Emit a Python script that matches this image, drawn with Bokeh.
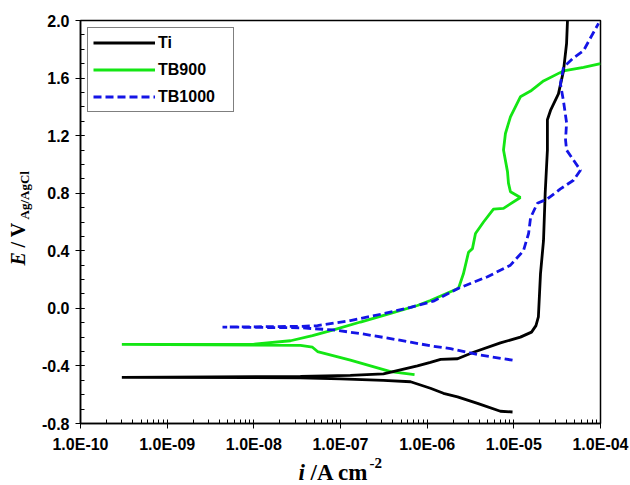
import math
from bokeh.plotting import figure
from bokeh.models import (Range1d, FixedTicker, CustomJSTickFormatter, PrintfTickFormatter,
                          Label, Legend, LegendItem)
from bokeh.embed import file_html
from bokeh.resources import INLINE

# ---------------- data ----------------
# Ti : cathodic branch (high -> low current), then anodic branch
ti_i = [9.66e-6, 7.0e-6, 3.81e-6, 2.24e-6, 1.54e-6, 1.09e-6, 6.43e-7, 3.13e-7, 1.0e-7, 3.45e-8,
        3.0e-10,
        3.45e-8, 1.3e-7, 3.13e-7, 7.72e-7, 1.09e-6, 1.43e-6, 2.24e-6, 3.43e-6, 7.0e-6, 1.19e-5,
        1.6e-5, 1.8e-5, 1.92e-5, 2.03e-5, 2.2e-5, 2.3e-5, 2.44e-5, 2.44e-5, 2.65e-5, 3.27e-5,
        3.74e-5, 4.06e-5, 4.16e-5]
ti_E = [-0.72, -0.715, -0.66, -0.615, -0.59, -0.555, -0.51, -0.50, -0.49, -0.482,
        -0.48,
        -0.472, -0.465, -0.455, -0.40, -0.375, -0.355, -0.35, -0.305, -0.24, -0.20,
        -0.165, -0.12, -0.06, 0.24, 0.47, 0.80, 1.10, 1.31, 1.375, 1.49,
        1.65, 1.84, 2.0]

# TB900
tb900_i = [7.15e-7, 3.78e-7, 1.30e-7, 5.43e-8, 4.75e-8, 3.45e-8, 1.0e-8,
           3.0e-10,
           1.0e-8, 2.65e-8, 4.75e-8, 8.3e-8, 1.70e-7, 3.78e-7, 7.72e-7, 1.09e-6, 2.30e-6,
           2.62e-6, 3.0e-6, 3.33e-6, 3.61e-6, 4.47e-6, 5.82e-6, 7.6e-6, 1.19e-5, 9.14e-6,
           8.67e-6, 8.45e-6, 7.6e-6, 8.0e-6, 9.14e-6, 1.19e-5, 1.56e-5, 2.20e-5, 3.74e-5,
           6.37e-5, 1.0e-4]
tb900_E = [-0.46, -0.44, -0.36, -0.30, -0.27, -0.257, -0.255,
           -0.25,
           -0.248, -0.225, -0.19, -0.15, -0.095, -0.035, 0.02, 0.055, 0.14,
           0.24, 0.39, 0.415, 0.52, 0.60, 0.69, 0.695, 0.77, 0.81,
           0.87, 0.95, 1.10, 1.215, 1.33, 1.47, 1.51, 1.58, 1.65,
           1.675, 1.70]

# TB1000
tb1000_i = [9.66e-6, 4.12e-6, 1.86e-6, 1.09e-6, 6.43e-7, 3.78e-7, 1.70e-7, 8.3e-8, 3.45e-8,
            4.35e-9,
            3.45e-8, 5.43e-8, 1.30e-7, 3.13e-7, 6.43e-7, 1.18e-6, 2.30e-6, 4.97e-6, 9.14e-6,
            1.29e-5, 1.48e-5, 1.56e-5, 1.87e-5, 2.44e-5, 3.45e-5, 4.88e-5, 5.87e-5, 4.88e-5,
            4.06e-5, 3.95e-5, 4.06e-5, 3.74e-5, 3.45e-5, 3.74e-5, 4.88e-5, 6.37e-5, 7.68e-5,
            9.49e-5]
tb1000_E = [-0.36, -0.325, -0.28, -0.26, -0.235, -0.21, -0.175, -0.15, -0.135,
            -0.13,
            -0.125, -0.12, -0.085, -0.037, 0.007, 0.05, 0.14, 0.22, 0.30,
            0.40, 0.52, 0.63, 0.73, 0.76, 0.83, 0.89, 0.96, 1.03,
            1.10, 1.17, 1.29, 1.44, 1.56, 1.675, 1.74, 1.79, 1.88,
            1.98]

series_names = ["Ti", "TB900", "TB1000"]
x_ticks = [1e-10, 1e-9, 1e-8, 1e-7, 1e-6, 1e-5, 1e-4]
y_ticks = [-0.8, -0.4, 0.0, 0.4, 0.8, 1.2, 1.6, 2.0]

x_minor = [m * 10.0 ** e for e in range(-10, -4) for m in range(2, 10)]
y_minor = [round(-0.8 + 0.1 * k, 1) for k in range(29)]

# ---------------- figure ----------------
p = figure(width=630, height=485, x_axis_type="log",
           x_range=Range1d(1e-10, 1e-4), y_range=Range1d(-0.8, 2.0),
           output_backend="svg", toolbar_location=None,
           min_border_left=80, min_border_right=30, min_border_top=20, min_border_bottom=62)
p.background_fill_color = "white"
p.border_fill_color = "white"
p.xgrid.visible = False
p.ygrid.visible = False
p.outline_line_color = "black"
p.outline_line_width = 1.5

for ax in (p.xaxis[0], p.yaxis[0]):
    ax.axis_line_color = "black"
    ax.axis_line_width = 1.5
    ax.major_tick_line_color = "black"
    ax.minor_tick_line_color = "black"
    ax.major_tick_in = 4
    ax.major_tick_out = 5
    ax.minor_tick_in = 4
    ax.minor_tick_out = 0
    ax.major_label_text_font = "Liberation Sans"
    ax.major_label_text_font_style = "bold"
    ax.major_label_text_font_size = "16px"
    ax.major_label_text_color = "black"

p.xaxis[0].ticker = FixedTicker(ticks=x_ticks, minor_ticks=x_minor)
p.xaxis[0].formatter = CustomJSTickFormatter(code="""
const e = Math.round(Math.log10(tick));
const a = Math.abs(e);
return "1.0E" + (e < 0 ? "-" : "+") + (a < 10 ? "0" : "") + a;
""")
p.xaxis[0].major_label_standoff = 7
p.yaxis[0].ticker = FixedTicker(ticks=y_ticks, minor_ticks=y_minor)
p.yaxis[0].formatter = PrintfTickFormatter(format="%.1f")
p.yaxis[0].major_label_standoff = 6

r_green = p.line(tb900_i, tb900_E, line_color="#14e614", line_width=2.8)
r_black = p.line(ti_i, ti_E, line_color="black", line_width=2.8)
r_blue = p.line(tb1000_i, tb1000_E, line_color="#1414e6", line_width=2.8, line_dash="8 4")

legend = Legend(items=[LegendItem(label=series_names[0], renderers=[r_black]),
                       LegendItem(label=series_names[1], renderers=[r_green]),
                       LegendItem(label=series_names[2], renderers=[r_blue])],
                location="top_left", margin=7, padding=5, spacing=8,
                glyph_width=62, glyph_height=19, label_height=19, label_width=70,
                label_standoff=3,
                label_text_font="Liberation Sans", label_text_font_style="bold",
                label_text_font_size="16px", label_text_color="black",
                border_line_color="black", border_line_width=1,
                background_fill_color="white", background_fill_alpha=1.0)
p.add_layout(legend)

# ---------------- axis titles as text (canvas pixel positions) ----------------
serif = "Liberation Serif"
title_parts = [
    # text, x, y, size, style, angle, side panel
    ("E", 17, 265, "20px", "bold italic", math.pi / 2, "left"),
    ("Ag/AgCl", 24, 219, "13px", "bold", math.pi / 2, "left"),
    ("/ V", 17, 247, "20px", "bold", math.pi / 2, "right"),
    ("i", 298, 472, "23px", "bold italic", 0.0, "right"),
    ("/A cm", 310, 472, "23px", "bold", 0.0, "below"),
    ("-2", 369, 462, "15px", "bold", 0.0, "above"),
]
for t, x, y, fs, st, ang, side in title_parts:
    p.add_layout(Label(x=x, y=y, x_units="canvas", y_units="canvas", text=t,
                       angle=ang, text_font=serif, text_font_size=fs,
                       text_font_style=st, text_color="black",
                       text_align="left", text_baseline="alphabetic"), side)

open("out.html", "w").write(file_html(p, INLINE))
